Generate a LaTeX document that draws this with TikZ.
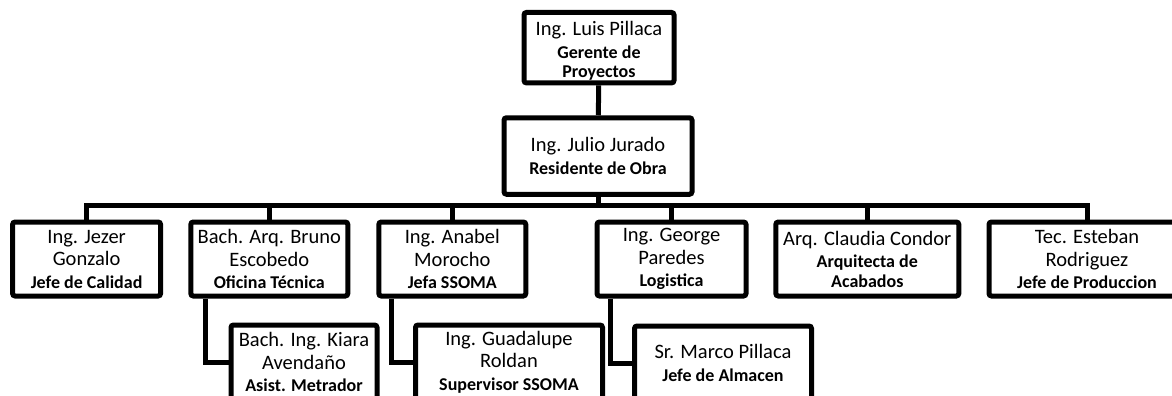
\documentclass[tikz,border=0pt]{standalone}
\usepackage{fontspec}
\setmainfont{Carlito}
\newcommand{\rolefont}{\fontsize{18}{21}\selectfont\bfseries}
\tikzset{
  orgbox/.style={draw=black, line width=5pt, rounded corners=2.5pt, fill=white,
    align=center, inner sep=1pt, font=\fontsize{20.5}{22.5}\selectfont},
  link/.style={draw=black, line width=5pt, line join=miter},
}
\begin{document}
\begin{tikzpicture}[x=1pt,y=-1pt]
\useasboundingbox (0,0) rectangle (1172,396);
\fill[white] (0,0) rectangle (1172,396);
\clip (0,0) rectangle (1172,396);
% top
\node[orgbox, minimum width=150pt, minimum height=70.5pt] (gp) at (599,47.7)
  {\rule{0pt}{21pt}Ing. Luis Pillaca\\{\rolefont Gerente de}\\[-3pt]{\rolefont Proyectos}};
\node[orgbox, minimum width=188pt, minimum height=76.5pt] (ro) at (598,156)
  {Ing. Julio Jurado\\{\rolefont Residente de Obra}};
% row
\node[orgbox, minimum width=148pt, minimum height=74pt] (b1) at (86.6,259)
  {Ing. Jezer\\Gonzalo\\{\rolefont Jefe de Calidad}};
\node[orgbox, minimum width=157pt, minimum height=74pt] (b2) at (269.3,259)
  {Bach. Arq. Bruno\\Escobedo\\{\rolefont Oficina Técnica}};
\node[orgbox, minimum width=147pt, minimum height=74pt] (b3) at (452.3,259)
  {Ing. Anabel\\Morocho\\{\rolefont Jefa SSOMA}};
\node[orgbox, minimum width=149pt, minimum height=74pt] (b4) at (671.5,259)
  {Ing. George\\Paredes\\{\rolefont Logistica}};
\node[orgbox, minimum width=183pt, minimum height=74pt] (b5) at (867.3,259)
  {Arq. Claudia Condor\\{\rolefont Arquitecta de}\\[-3pt]{\rolefont Acabados}};
\node[orgbox, minimum width=196pt, minimum height=74pt] (b6) at (1087,259)
  {Tec. Esteban\\Rodriguez\\{\rolefont Jefe de Produccion}};
% sub
\node[orgbox, minimum width=146pt, minimum height=74pt] (s1) at (304,362)
  {Bach. Ing. Kiara\\Avendaño\\{\rolefont Asist. Metrador}};
\node[orgbox, minimum width=187pt, minimum height=74pt] (s2) at (509,362)
  {Ing. Guadalupe\\Roldan\\{\rolefont Supervisor SSOMA}};
\node[orgbox, minimum width=177pt, minimum height=74pt] (s3) at (723,363)
  {Sr. Marco Pillaca\\{\rolefont Jefe de Almacen}};
% connectors
\coordinate (bus) at (598,205.7);
\draw[link] (gp) -- (ro);
\draw[link] (ro) -- (bus);
\draw[link] (b1.north) -- (b1.north |- bus) -- (b6.north |- bus) -- (b6.north);
\foreach \b in {b2,b3,b4,b5} \draw[link] (\b.north |- bus) -- (\b.north);
\draw[link] ([xshift=17pt]b2.south west) |- (s1.west);
\draw[link] ([xshift=15pt]b3.south west) |- (s2.west);
\draw[link] ([xshift=16pt]b4.south west) |- (s3.west);
\end{tikzpicture}
\end{document}
